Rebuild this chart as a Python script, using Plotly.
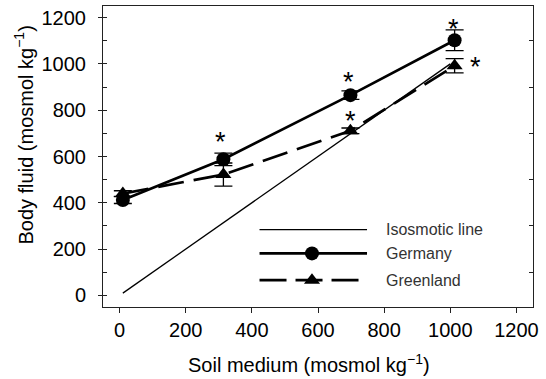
import plotly.graph_objects as go

# ---- data ----
soil = [10, 314, 698, 1013]
germany = [412, 588, 865, 1102]
germany_err = [15, 27, 18, 45]
greenland = [440, 522, 711, 992]
greenland_err = [12, 50, 12, 31]
iso_x = [10, 1000]
iso_y = [10, 1000]
tick_vals = [0, 200, 400, 600, 800, 1000, 1200]
minor_vals = [100, 300, 500, 700, 900, 1100]
legend_labels = ["Isosmotic line", "Germany", "Greenland"]

FONT = "Liberation Sans, Arial, sans-serif"

fig = go.Figure()

fig.add_trace(go.Scatter(x=iso_x, y=iso_y, mode="lines",
                         line=dict(color="black", width=1.3), showlegend=False))
fig.add_trace(go.Scatter(x=soil, y=greenland, mode="lines+markers",
                         line=dict(color="black", width=2.7, dash="26px,10px"),
                         marker=dict(symbol="triangle-up", size=14, color="black"),
                         error_y=dict(type="data", array=greenland_err, color="black",
                                      thickness=1.3, width=9),
                         showlegend=False))
fig.add_trace(go.Scatter(x=soil, y=germany, mode="lines+markers",
                         line=dict(color="black", width=2.7),
                         marker=dict(symbol="circle", size=14, color="black"),
                         error_y=dict(type="data", array=germany_err, color="black",
                                      thickness=1.3, width=9),
                         showlegend=False))

# ---- manual legend on an overlay axis ----
leg_y = [0.257, 0.178, 0.089]
leg_x0, leg_xm, leg_x1, leg_tx = 0.364, 0.486, 0.614, 0.653
fig.add_trace(go.Scatter(x=[leg_x0, leg_x1], y=[leg_y[0]] * 2, mode="lines",
                         line=dict(color="black", width=1.3), xaxis="x2", yaxis="y2",
                         showlegend=False, hoverinfo="skip"))
fig.add_trace(go.Scatter(x=[leg_x0, leg_x1], y=[leg_y[1]] * 2, mode="lines",
                         line=dict(color="black", width=2.7), xaxis="x2", yaxis="y2",
                         showlegend=False, hoverinfo="skip"))
fig.add_trace(go.Scatter(x=[leg_xm], y=[leg_y[1]], mode="markers",
                         marker=dict(symbol="circle", size=14, color="black"),
                         xaxis="x2", yaxis="y2", showlegend=False, hoverinfo="skip"))
fig.add_trace(go.Scatter(x=[leg_x0, leg_x1], y=[leg_y[2]] * 2, mode="lines",
                         line=dict(color="black", width=2.7, dash="27px,9px"),
                         xaxis="x2", yaxis="y2", showlegend=False, hoverinfo="skip"))
fig.add_trace(go.Scatter(x=[leg_xm], y=[leg_y[2]], mode="markers",
                         marker=dict(symbol="triangle-up", size=14, color="black"),
                         xaxis="x2", yaxis="y2", showlegend=False, hoverinfo="skip"))

annotations = []
for lab, yy in zip(legend_labels, leg_y):
    annotations.append(dict(x=leg_tx, y=yy, xref="paper", yref="paper", text=lab,
                            showarrow=False, xanchor="left", yanchor="middle",
                            font=dict(family=FONT, size=16, color="#333")))

# significance asterisks (series, index, xshift, yshift)
stars = [("g", 1, -3, 17), ("g", 2, -2, 13), ("g", 3, -1, 11),
         ("l", 2, 0, 10), ("l", 3, 21, -1)]
for s, i, dx, dy in stars:
    yv = germany[i] if s == "g" else greenland[i]
    annotations.append(dict(x=soil[i], y=yv, xref="x", yref="y", text="*",
                            showarrow=False, xshift=dx, yshift=dy,
                            font=dict(family=FONT, size=27, color="black")))

annotations.append(dict(x=0.479, y=-0.187, xref="paper", yref="paper",
                        text="Soil medium (mosmol kg<sup>\u22121</sup>)", showarrow=False,
                        xanchor="center", yanchor="middle",
                        font=dict(family=FONT, size=20, color="black")))
annotations.append(dict(x=-0.185, y=0.571, xref="paper", yref="paper",
                        text="Body fluid (mosmol kg<sup>\u22121</sup>)", showarrow=False,
                        textangle=-90, xanchor="center", yanchor="middle",
                        font=dict(family=FONT, size=20, color="black")))

rng = [-50, 1250]
fig.update_layout(
    width=546, height=379,
    margin=dict(l=103, r=13, t=6, b=72),
    paper_bgcolor="white", plot_bgcolor="white",
    font=dict(family=FONT, size=20, color="black"),
    showlegend=False,
    annotations=annotations,
    xaxis=dict(range=rng, tickvals=tick_vals, ticks="outside", ticklen=5,
               tickwidth=1, tickcolor="#222", showline=True, linecolor="#222",
               linewidth=1, mirror=True, showgrid=False, zeroline=False,
               tickfont=dict(family=FONT, size=20, color="black")),
    yaxis=dict(range=rng, tickvals=tick_vals, ticks="outside", ticklen=4,
               tickwidth=1, tickcolor="#222", showline=True, linecolor="#222",
               linewidth=1, mirror=True, showgrid=False, zeroline=False,
               ticklabelstandoff=8,
               minor=dict(tickvals=minor_vals, ticks="inside", ticklen=4,
                          tickcolor="#222", tickwidth=1, showgrid=False),
               tickfont=dict(family=FONT, size=20, color="black")),
    yaxis3=dict(range=rng, overlaying="y", side="right", tickvals=minor_vals,
                ticks="inside", ticklen=4, tickcolor="#222", showticklabels=False,
                showline=False, showgrid=False, zeroline=False),
    yaxis4=dict(range=rng, overlaying="y", side="left", tickvals=tick_vals,
                ticks="inside", ticklen=4, tickcolor="#222", showticklabels=False,
                showline=False, showgrid=False, zeroline=False),
    xaxis2=dict(range=[0, 1], overlaying="x", visible=False),
    yaxis2=dict(range=[0, 1], overlaying="y", visible=False),
)
# dummy traces to activate tick axes
fig.add_trace(go.Scatter(x=[None], y=[None], yaxis="y3", showlegend=False))
fig.add_trace(go.Scatter(x=[None], y=[None], yaxis="y4", showlegend=False))

fig.write_html("out.html")
